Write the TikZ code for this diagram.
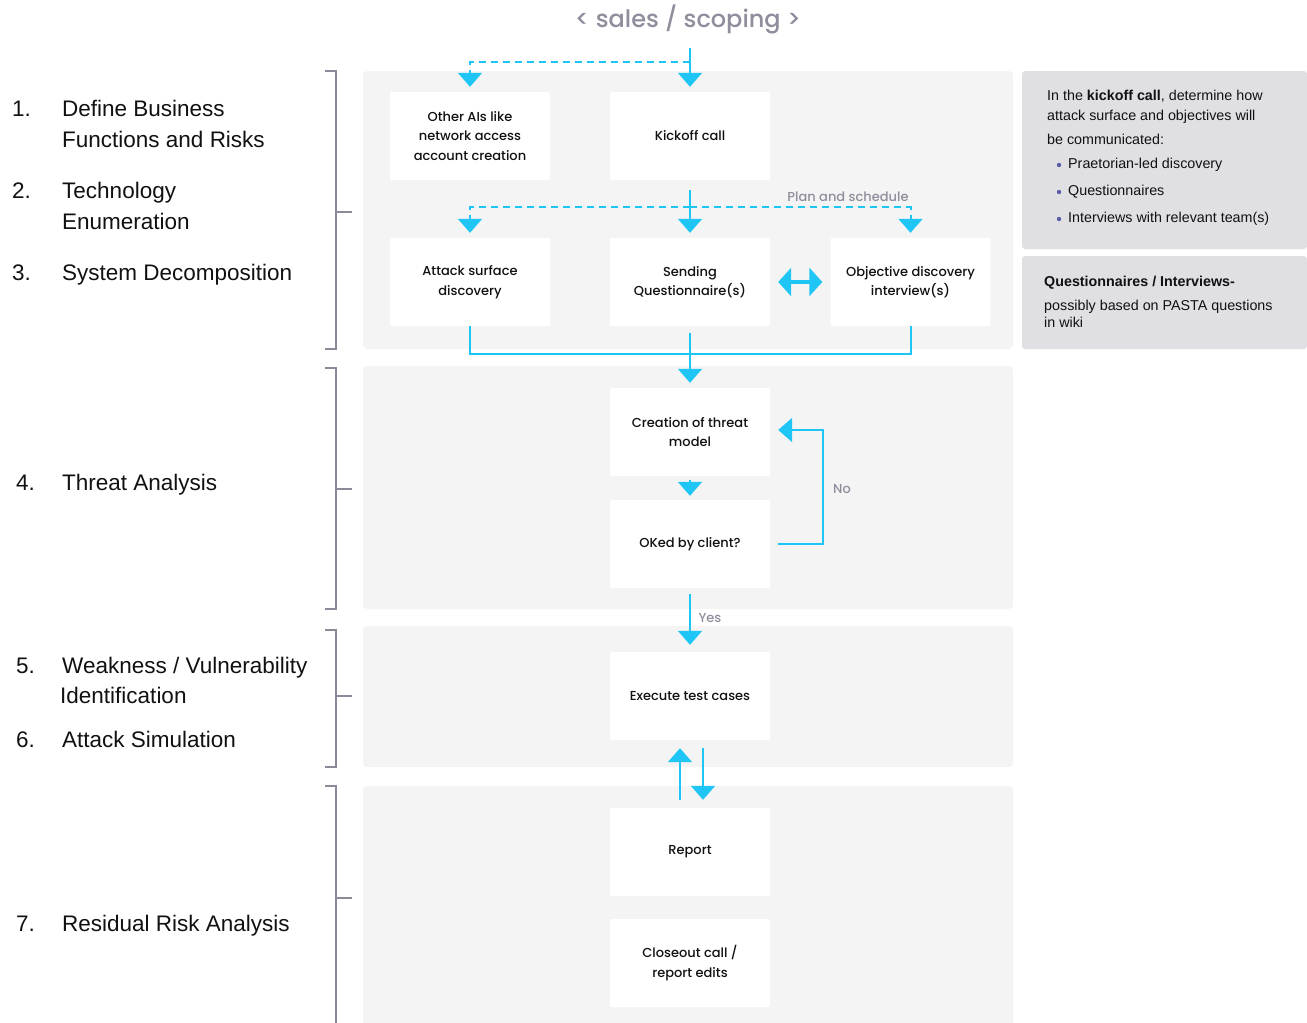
\documentclass[tikz,border=0pt]{standalone}
\usepackage{fontspec}
\setmainfont{Liberation Sans}
\newfontfamily\boxfont{Poppins Medium}
\newfontfamily\lblfont{Poppins}
\usetikzlibrary{arrows.meta}
\definecolor{cyanA}{HTML}{1FC6F5}
\definecolor{panelC}{HTML}{F4F4F4}
\definecolor{noteC}{HTML}{E0E0E4}
\definecolor{brackC}{HTML}{8A8A99}
\definecolor{grayT}{HTML}{8E8E9C}
\definecolor{bulletC}{HTML}{5B5EA6}
\definecolor{txtC}{HTML}{111111}
\begin{document}
\begin{tikzpicture}[x=1pt,y=-1pt,
  panel/.style={fill=panelC,rounded corners=4pt},
  note/.style={fill=noteC,rounded corners=3pt},
  stepbox/.style={fill=white,rounded corners=2pt,minimum width=160pt,minimum height=88pt,inner sep=0pt,align=center,text=txtC,font=\boxfont\fontsize{13}{19.5}\selectfont},
  brack/.style={draw=brackC,line width=2pt},
  flow/.style={draw=cyanA,line width=2pt,-{Triangle[width=24pt,length=14pt]}},
  dflow/.style={draw=cyanA,line width=2pt,dash pattern=on 7pt off 5pt,-{Triangle[width=24pt,length=14pt]}},
  plain/.style={draw=cyanA,line width=2pt},
  lbl/.style={text=grayT,font=\boxfont\fontsize{13}{15}\selectfont},
  phase/.style={anchor=base west,align=left,text=txtC,font=\fontsize{22.5}{31}\selectfont,inner sep=0pt},
  num/.style={anchor=base west,text=txtC,font=\fontsize{22.5}{31}\selectfont,inner sep=0pt},
  ntext/.style={anchor=west,text=txtC,inner sep=0pt,font=\fontsize{14.3}{21}\selectfont}
]
\useasboundingbox (0,0) rectangle (1307,1023);
% panels
\fill[panel] (363,71) rectangle (1013,349);
\fill[panel] (363,366) rectangle (1013,609);
\fill[panel] (363,626) rectangle (1013,767);
\fill[panel] (363,786) rectangle (1013,1040);
% notes
\fill[note] (1022,71) rectangle (1307,249);
\fill[note] (1022,256) rectangle (1307,349);
% title
\node[text=grayT,font=\boxfont\fontsize{24}{28}\selectfont] (title) at (688,19) {< sales / scoping >};
% brackets
\draw[brack] (325,71) -- (336,71) -- (336,349) -- (325,349);
\draw[brack] (336,212) -- (352,212);
\draw[brack] (325,368) -- (336,368) -- (336,609) -- (325,609);
\draw[brack] (336,489) -- (352,489);
\draw[brack] (325,630) -- (336,630) -- (336,767) -- (325,767);
\draw[brack] (336,696) -- (352,696);
\draw[brack] (325,786) -- (336,786) -- (336,1030);
\draw[brack] (336,898) -- (352,898);
% left phase labels
\node[num] (n1) at (12,116) {1.};
\node[phase] (p1) at (62,116) {Define Business};
\node[phase] (p1b) at (62,147) {Functions and Risks};
\node[num] (n2) at (12,198) {2.};
\node[phase] (p2) at (62,198) {Technology};
\node[phase] (p2b) at (62,229) {Enumeration};
\node[num] (n3) at (12,280) {3.};
\node[phase] (p3) at (62,280) {System Decomposition};
\node[num] (n4) at (16,490) {4.};
\node[phase] (p4) at (62,490) {Threat Analysis};
\node[num] (n5) at (16,673) {5.};
\node[phase] (p5) at (62,673) {Weakness / Vulnerability};
\node[phase] (p5b) at (60,703) {Identification};
\node[num] (n6) at (16,747) {6.};
\node[phase] (p6) at (62,747) {Attack Simulation};
\node[num] (n7) at (16,931) {7.};
\node[phase] (p7) at (62,931) {Residual Risk Analysis};
% boxes
\node[stepbox] (other) at (470,136) {Other AIs like\\network access\\account creation};
\node[stepbox] (kick) at (690,136) {Kickoff call};
\node[stepbox] (asd) at (470,282) {Attack surface\\discovery};
\node[stepbox] (send) at (690,282) {Sending\\Questionnaire(s)};
\node[stepbox] (obj) at (910.5,282) {Objective discovery\\interview(s)};
\node[stepbox] (create) at (690,432) {Creation of threat\\model};
\node[stepbox] (ok) at (690,544) {OKed by client?};
\node[stepbox] (exec) at (690,696) {Execute test cases};
\node[stepbox] (report) at (690,852) {Report};
\node[stepbox] (close) at (690,963) {Closeout call /\\report edits};
% connectors top
\coordinate (top) at (690,48);
\coordinate (s1) at (690,62);
\draw[flow,shorten >=5pt] (top) -- (kick.north);
\draw[dflow,shorten >=5pt] (s1) -| (other.north);
\coordinate (k2) at (690,190);
\coordinate (s2) at (690,207);
\draw[flow,shorten >=5pt] (k2) -- (send.north);
\draw[dflow,shorten >=5pt] (s2) -| (asd.north);
\draw[dflow,shorten >=5pt] (s2) -| (obj.north);
\node[lbl] (plan) at (848,197) {Plan and schedule};
\draw[draw=cyanA,line width=3.5pt,{Triangle[width=28pt,length=13pt]}-{Triangle[width=28pt,length=13pt]},shorten <=8pt,shorten >=8pt] (send.east) -- (obj.west);
% merge
\coordinate (m1) at (690,354);
\coordinate (m0) at (690,333);
\draw[plain] (asd.south) |- (m1) -| (obj.south);
\draw[flow,shorten >=5pt] (m0) -- (create.north);
% threat
\draw[flow,shorten <=4pt,shorten >=4pt] (create.south) -- (ok.north);
\coordinate (noX) at (823,489);
\draw[flow,shorten <=8pt,shorten >=8pt] (ok.east) -| (noX) |- ([yshift=2pt]create.east);
\node[lbl] (no) at (842,489) {No};
\draw[flow,shorten <=6pt,shorten >=7pt] (ok.south) -- (exec.north);
\node[lbl] (yes) at (710,618) {Yes};
\draw[flow,shorten <=8pt,shorten >=8pt] ([xshift=-10pt]report.north) -- ([xshift=-10pt]exec.south);
\draw[flow,shorten <=8pt,shorten >=8pt] ([xshift=13pt]exec.south) -- ([xshift=13pt]report.north);
% notes text
\node[ntext] (t1) at (1047,96) {In the \textbf{kickoff call}, determine how};
\node[ntext] (t2) at (1047,117) {attack surface and objectives will};
\node[ntext] (t3) at (1047,139) {be communicated:};
\foreach \yy/\tt [count=\i] in {165/Praetorian-led discovery,192/Questionnaires,219/Interviews with relevant team(s)}{
  \fill[bulletC] (1059,\yy) circle (2.2pt);
  \node[ntext] (b\i) at (1068,\yy) {\tt};
}
\node[ntext] (q1) at (1044,283) {\textbf{Questionnaires / Interviews-}};
\node[ntext] (q2) at (1044,307) {possibly based on PASTA questions};
\node[ntext] (q3) at (1044,322) {in wiki};
\end{tikzpicture}
\end{document}
